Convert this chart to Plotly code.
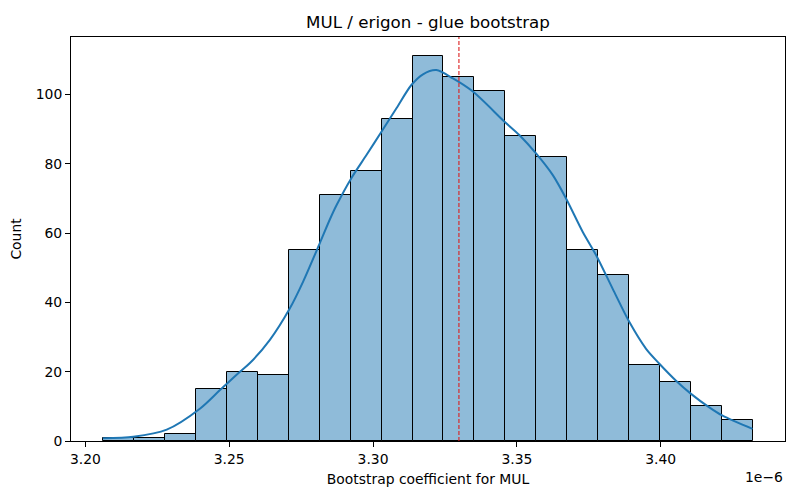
import numpy as np
import plotly.graph_objects as go

# bootstrap histogram (values in units of 1e-6)
bin_lo = 3.20626
bin_hi = 3.43195
counts = [1, 1, 2, 15, 20, 19, 55, 71, 78, 93, 111, 105, 101, 88, 82, 55, 48, 22, 17, 10, 6]

# kde curve (scaled to counts)
kde_x = [3.20604, 3.21667, 3.22826, 3.23990, 3.24677, 3.25372, 3.25719, 3.26413,
         3.27108, 3.27569, 3.28149, 3.28497, 3.28729, 3.29250, 3.29771, 3.30292, 3.30813,
         3.31333, 3.31736, 3.32201, 3.32778, 3.33472, 3.34573, 3.35094, 3.35674,
         3.36250, 3.36715, 3.37292, 3.37757, 3.38333, 3.38913, 3.39493, 3.39955,
         3.40535, 3.41056, 3.41691, 3.42153, 3.43194]
kde_y = [0.8, 1.25, 3.3, 9.4, 14.7, 20.0, 22.5, 29.2,
         38.3, 46.0, 57.1, 63.9, 68.0, 75.9, 82.5, 89.2, 96.0,
         102.7, 105.8, 107.0, 104.6, 100.8, 92.1, 88.2, 82.9,
         76.7, 69.9, 60.3, 53.6, 43.9, 34.3, 26.6, 22.3,
         17.4, 13.6, 9.7, 7.3, 3.5]

estimate = 3.32986

x_ticks = [3.20, 3.25, 3.30, 3.35, 3.40]
y_ticks = [0, 20, 40, 60, 80, 100]

edges = np.linspace(bin_lo, bin_hi, len(counts) + 1)
centers = (edges[:-1] + edges[1:]) / 2
width = edges[1] - edges[0]

font = "DejaVu Sans"

fig = go.Figure()

fig.add_trace(go.Bar(
    x=centers,
    y=counts,
    width=width,
    marker=dict(color='rgba(31,119,180,0.5)', line=dict(color='black', width=1)),
    showlegend=False
))

fig.add_trace(go.Scatter(
    x=kde_x,
    y=kde_y,
    mode='lines',
    line=dict(color='#1f77b4', width=2, shape='spline', smoothing=0.8),
    showlegend=False
))

fig.add_shape(type='line', x0=estimate, x1=estimate, y0=0, y1=1, yref='paper',
              line=dict(color='rgb(220,30,30)', width=1.1, dash='4px,2px'))

pad = (bin_hi - bin_lo) * 0.05

# page body has an 8px margin, so the figure is a bit smaller than the window
fig.update_layout(
    width=792,
    height=492,
    paper_bgcolor='white',
    plot_bgcolor='white',
    margin=dict(l=63, r=15, t=29, b=59),
    bargap=0,
    title=dict(text="MUL / erigon - glue bootstrap", x=0.5, xref='paper', xanchor='center',
               y=0.9715, yanchor='middle', font=dict(family=font, size=16.7, color='black')),
    font=dict(family=font, size=13.9, color='black'),
    xaxis=dict(
        range=[bin_lo - pad, bin_hi + pad],
        tickvals=x_ticks,
        ticktext=[f"{v:.2f}" for v in x_ticks],
        showline=True, mirror=True, linecolor='black', linewidth=1,
        ticks='outside', ticklen=5, tickcolor='black',
        showgrid=False, zeroline=False, automargin=False,
        title=dict(text="Bootstrap coefficient for MUL", font=dict(size=13.9), standoff=8)
    ),
    yaxis=dict(
        range=[0, 111 * 1.05],
        tickvals=y_ticks,
        showline=True, mirror=True, linecolor='black', linewidth=1,
        ticks='outside', ticklen=5, tickcolor='black',
        showgrid=False, zeroline=False, automargin=False,
        title=dict(text="Count", font=dict(size=13.9), standoff=10)
    ),
    annotations=[dict(text="1e\u22126", xref='paper', yref='paper', x=1, y=-0.089,
                      xanchor='right', yanchor='middle', showarrow=False,
                      font=dict(family=font, size=13.9))]
)

fig.write_html("out.html")
